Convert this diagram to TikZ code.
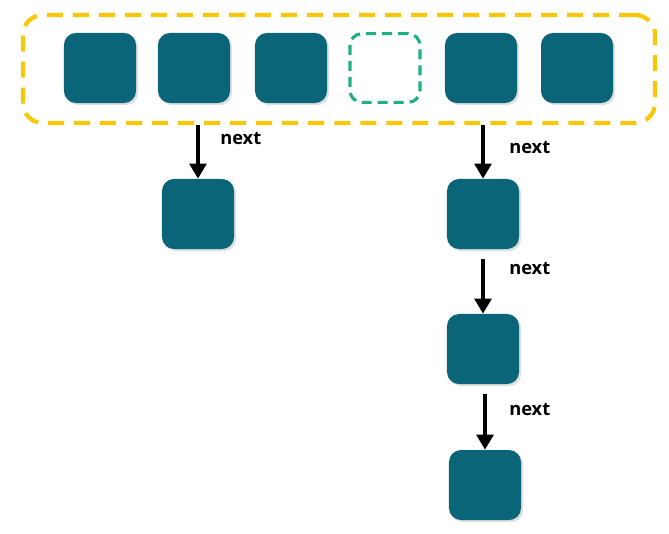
\documentclass[tikz,border=0pt]{standalone}
\usepackage{fontspec}
\setmainfont{Open Sans}
\usepackage{tikz}
\usetikzlibrary{arrows.meta,positioning,calc,shadows}
\definecolor{slotTeal}{HTML}{0A6579}
\definecolor{slotFrame}{HTML}{F8C70A}
\definecolor{slotFree}{HTML}{1FAE86}
\tikzset{
  slotbox/.style={rectangle, rounded corners=0.3cm, fill=slotTeal,
    minimum width=1.8cm, minimum height=1.75cm, inner sep=0pt,
    drop shadow={shadow xshift=1.5pt, shadow yshift=-1.5pt, opacity=0.25}},
  slotfree/.style={rectangle, rounded corners=0.3cm, draw=slotFree, dashed,
    dash pattern=on 0.25cm off 0.15cm, line width=2.2pt,
    minimum width=1.75cm, minimum height=1.72cm, inner sep=0pt},
  slotframe/.style={rectangle, rounded corners=0.5cm, draw=slotFrame,
    dash pattern=on 0.4cm off 0.25cm, line width=3pt, inner sep=0pt},
  nextline/.style={-{Triangle[length=0.38cm,width=0.42cm]}, line width=3.2pt, draw=black},
  nextlab/.style={font=\fontsize{13}{15}\selectfont\bfseries, anchor=west, inner sep=0pt}
}
\begin{document}
\begin{tikzpicture}[x=0.025cm, y=-0.025cm]
\useasboundingbox (0,0) rectangle (669,533);
% bucket array
\node[slotframe, minimum width=15.8cm, minimum height=2.7cm] (frame) at (339,69) {};
\node[slotbox] (b1) at (100,68) {};
\node[slotbox] (b2) at (194,68) {};
\node[slotbox] (b3) at (291,68) {};
\node[slotfree] (b4) at (385,68) {};
\node[slotbox] (b5) at (481,68) {};
\node[slotbox] (b6) at (577,68) {};
% chained entries
\node[slotbox] (l1) at (198,214) {};
\node[slotbox] (r1) at (483,214) {};
\node[slotbox] (r2) at (483,349) {};
\node[slotbox] (r3) at (485,485) {};

\draw[nextline] (frame.south -| l1) -- node[nextlab, pos=0.25, xshift=0.5cm]{next} (l1.north);
\draw[nextline] (frame.south -| r1) -- node[nextlab, pos=0.42, xshift=0.6cm]{next} (r1.north);
\draw[nextline, shorten <=0.25cm] (r1.south) -- node[nextlab, pos=0.3, xshift=0.6cm]{next} (r2.north);
\draw[nextline, shorten <=0.25cm] (r2.south -| r3) -- node[nextlab, pos=0.38, xshift=0.55cm]{next} (r3.north);
\end{tikzpicture}
\end{document}
